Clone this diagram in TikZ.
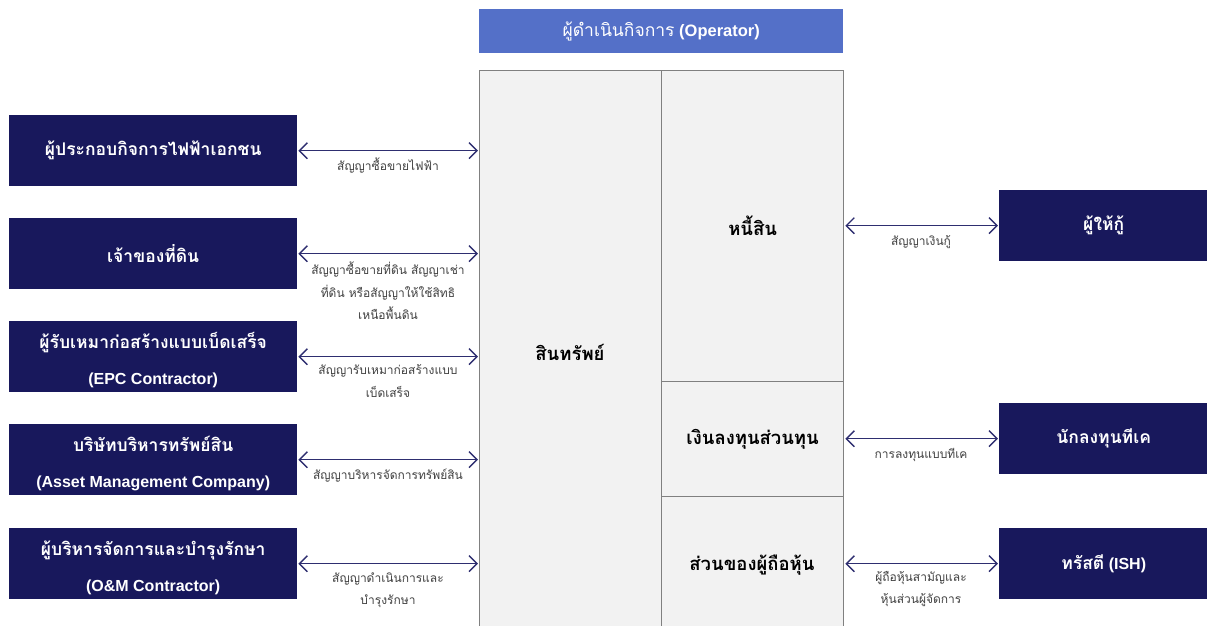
\documentclass[tikz,border=0pt]{standalone}
\usepackage{fontspec}
\setmainfont{Liberation Sans}
\newfontfamily\thai[Script=Thai]{Loma}
\usetikzlibrary{arrows.meta}
\definecolor{navy}{RGB}{24,24,92}
\definecolor{arrowc}{RGB}{46,46,112}
\definecolor{opblue}{RGB}{84,112,200}
\definecolor{cellfill}{RGB}{242,242,242}
\definecolor{cellline}{RGB}{128,128,128}
\definecolor{labelc}{RGB}{64,64,64}
\tikzset{
  lbox/.style={fill=navy, draw=none, text=white, minimum width=288pt, minimum height=71pt,
    anchor=north west, align=center, inner sep=0pt, font=\bfseries\fontsize{16}{36}\selectfont},
  rbox/.style={lbox, minimum width=209pt},
  cell/.style={fill=cellfill, draw=cellline, line width=1.3pt, anchor=north west, inner sep=0pt,
    font=\thai\bfseries\fontsize{18.5}{20}\selectfont, text=black},
  conn/.style={draw=arrowc, line width=1.4pt, {Straight Barb[length=8pt,width=16pt]}-{Straight Barb[length=8pt,width=16pt]}},
  lab/.style={text=labelc, align=center, font=\thai\fontsize{12}{22.5}\selectfont, inner sep=0pt}
}
\newcommand{\thb}[1]{{\thai\fontsize{17.5}{36}\selectfont #1}}
\newcommand{\tstrut}{\rule{0pt}{22pt}}
\begin{document}
\begin{tikzpicture}[x=1pt,y=-1pt]
\useasboundingbox (0,0) rectangle (1207,625);
% operator
\node[fill=opblue, text=white, minimum width=364pt, minimum height=44pt, anchor=north west, inner sep=0pt,
  font=\fontsize{16.5}{20}\selectfont] (op) at (479,9) {{\thai\fontsize{17.5}{20}\selectfont ผู้ดำเนินกิจการ} \textbf{(Operator)}};
% balance sheet
\node[cell, minimum width=182pt, minimum height=560pt] (asset) at (479,70) {};
\node[font=\thai\bfseries\fontsize{18.5}{20}\selectfont] (assett) at (570,352) {สินทรัพย์};
\node[cell, minimum width=182pt, minimum height=311pt] (liab) at (661,70) {หนี้สิน};
\node[cell, minimum width=182pt, minimum height=115pt] (eqi) at (661,381) {เงินลงทุนส่วนทุน};
\node[cell, minimum width=182pt, minimum height=140pt] (sh) at (661,496) {};
\node[font=\thai\bfseries\fontsize{18.5}{20}\selectfont] (sht) at (752,565) {ส่วนของผู้ถือหุ้น};
% left boxes
\node[lbox] (l1) at (9,115) {\thb{ผู้ประกอบกิจการไฟฟ้าเอกชน}};
\node[lbox] (l2) at (9,218) {\thb{เจ้าของที่ดิน}};
\node[lbox] (l3) at (9,321) {\tstrut\thb{ผู้รับเหมาก่อสร้างแบบเบ็ดเสร็จ}\\(EPC Contractor)};
\node[lbox] (l4) at (9,424) {\tstrut\thb{บริษัทบริหารทรัพย์สิน}\\(Asset Management Company)};
\node[lbox] (l5) at (9,528) {\tstrut\thb{ผู้บริหารจัดการและบำรุงรักษา}\\(O\&M Contractor)};
% right boxes
\node[rbox] (r1) at (999,190) {\thb{ผู้ให้กู้}};
\node[rbox] (r2) at (999,403) {\thb{นักลงทุนทีเค}};
\node[rbox] (r3) at (999,528) {\thb{ทรัสตี} (ISH)};
% left connectors
\foreach \b in {l1,l2,l3,l4,l5}{
  \draw[conn] ([xshift=1pt]\b.east) -- ([xshift=-1pt]\b.east -| asset.west);
}
% right connectors
\draw[conn] ([xshift=1pt]liab.east |- r1.west) -- ([xshift=-1pt]r1.west);
\draw[conn] ([xshift=1pt]eqi.east |- r2.west) -- ([xshift=-1pt]r2.west);
\draw[conn] ([xshift=1pt]sh.east |- r3.west) -- ([xshift=-1pt]r3.west);
% labels
\node[lab] (t1) at (388,166) {สัญญาซื้อขายไฟฟ้า};
\node[lab] (t2) at (388,291) {สัญญาซื้อขายที่ดิน สัญญาเช่า\\ที่ดิน หรือสัญญาให้ใช้สิทธิ\\เหนือพื้นดิน};
\node[lab] (t3) at (388,381) {สัญญารับเหมาก่อสร้างแบบ\\เบ็ดเสร็จ};
\node[lab] (t4) at (388,476) {สัญญาบริหารจัดการทรัพย์สิน};
\node[lab] (t5) at (388,590) {สัญญาดำเนินการและ\\บำรุงรักษา};
\node[lab] (t6) at (921,242) {สัญญาเงินกู้};
\node[lab] (t7) at (921,455) {การลงทุนแบบทีเค};
\node[lab] (t8) at (921,589) {ผู้ถือหุ้นสามัญและ\\หุ้นส่วนผู้จัดการ};
\end{tikzpicture}
\end{document}
